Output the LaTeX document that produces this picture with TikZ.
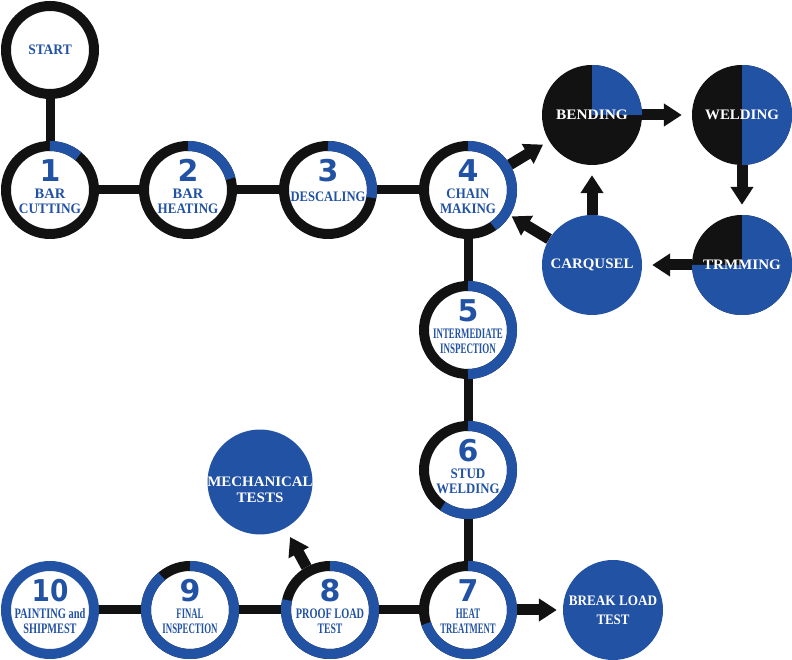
\documentclass[tikz,border=0pt]{standalone}
\usepackage{fontspec}
\usepackage{graphicx}
\setmainfont{Liberation Serif}
\newfontfamily\digfam{DejaVu Sans}
\usetikzlibrary{arrows.meta}
\definecolor{bl}{HTML}{2252A3}
\definecolor{bk}{HTML}{121212}
\newcommand\dig{\digfam\bfseries\fontsize{30}{30}\selectfont}
\newcommand\cx[2]{\scalebox{#1}[1]{#2}}
\newcommand\at[2]{\makebox[0pt]{\raisebox{#1}[0pt][0pt]{#2}}}
% number + two lines of text, all placed at fixed heights round the node centre
\newcommand\steptwo[3]{\at{8pt}{\dig #1}\at{-9pt}{#2}\at{-24pt}{#3}}
\newcommand\stepone[2]{\at{8pt}{\dig #1}\at{-11.8pt}{#2}}
\tikzset{
  ring/.style={circle, minimum size=88pt, inner sep=0pt, draw=bk, line width=10pt, fill=white,
    text=bl, font=\fontsize{14.5}{15}\selectfont\bfseries},
  disc/.style={circle, minimum size=100pt, inner sep=0pt, text=white, align=center,
    font=\fontsize{14.5}{16}\selectfont\bfseries},
  conn/.style={draw=bk, line width=9pt},
  arr/.style={draw=bk, line width=11pt, -{Triangle[width=22pt,length=18pt]}},
  prog/.style={draw=bl, line width=10pt},
}
\begin{document}
\begin{tikzpicture}[x=1pt,y=1pt]
\useasboundingbox (0,0) rectangle (792,660);
% ring steps
\node[ring] (start) at (50,610) {\cx{0.93}{START}};
\node[ring] (n1) at (50,470) {\steptwo{1}{BAR}{\cx{0.92}{CUTTING}}};
\node[ring] (n2) at (188,470) {\steptwo{2}{BAR}{\cx{0.9}{HEATING}}};
\node[ring] (n3) at (328,470) {\stepone{3}{\cx{0.87}{DESCALING}}};
\node[ring] (n4) at (468,470) {\steptwo{4}{\cx{0.89}{CHAIN}}{\cx{0.89}{MAKING}}};
\node[ring] (n5) at (468,330) {\steptwo{5}{\cx{0.61}{INTERMEDIATE}}{\cx{0.62}{INSPECTION}}};
\node[ring] (n6) at (468,190) {\steptwo{6}{\cx{0.9}{STUD}}{\cx{0.88}{WELDING}}};
\node[ring] (n7) at (468,50) {\steptwo{7}{\cx{0.61}{HEAT}}{\cx{0.6}{TREATMENT}}};
\node[ring] (n8) at (330,50) {\steptwo{8}{\cx{0.71}{PROOF LOAD}}{\cx{0.67}{TEST}}};
\node[ring] (n9) at (190,50) {\steptwo{9}{\cx{0.6}{FINAL}}{\cx{0.61}{INSPECTION}}};
\node[ring, draw=bl] (n10) at (50,50) {\steptwo{\cx{0.88}{10}}{\cx{0.72}{PAINTING and}}{\cx{0.71}{SHIPMEST}}};
% filled discs
\node[disc, fill=bk, path picture={\fill[bl] (path picture bounding box.center) -- ++(90:52pt) arc[start angle=90, end angle=0, radius=52pt] -- cycle;}] (bend) at (592,545) {\cx{1.06}{BENDING}};
\node[disc, fill=bk, path picture={\fill[bl] (path picture bounding box.center) -- ++(90:52pt) arc[start angle=90, end angle=-90, radius=52pt] -- cycle;}] (weld) at (742,545) {\cx{1.03}{WELDING}};
\node[disc, fill=bk, path picture={\fill[bl] (path picture bounding box.center) -- ++(90:52pt) arc[start angle=90, end angle=-180, radius=52pt] -- cycle;}] (trim) at (742,395) {\cx{1.04}{TRMMING}};
\node[disc, fill=bl] (carq) at (592,395) {\cx{1.03}{CARQUSEL}};
\node[disc, fill=bl] (mech) at (260,178) {\smash{\raisebox{-12.5pt}{\begin{tabular}{@{}c@{}}\cx{1.03}{MECHANICAL}\\\cx{1.04}{TESTS}\end{tabular}}}};
\node[disc, fill=bl] (blt) at (613,50) {\cx{0.91}{BREAK LOAD}\\[3pt]\cx{0.89}{TEST}};
% connectors
\draw[conn] (start) -- (n1);
\draw[conn] (n1) -- (n2);
\draw[conn] (n2) -- (n3);
\draw[conn] (n3) -- (n4);
\draw[conn] (n4) -- (n5);
\draw[conn] (n5) -- (n6);
\draw[conn] (n6) -- (n7);
\draw[conn] (n7) -- (n8);
\draw[conn] (n8) -- (n9);
\draw[conn] (n9) -- (n10);
% arrows
\draw[arr, shorten >=10pt] (bend) -- (weld);
\draw[arr, shorten >=10pt] (weld) -- (trim);
\draw[arr, shorten >=10pt] (trim) -- (carq);
\draw[arr, shorten >=10pt] (carq) -- (bend);
\draw[arr, shorten >=2pt] (carq) -- (n4);
\draw[arr, shorten >=7pt] (n4) -- (bend);
\draw[arr, shorten >=10pt] (n8) -- (mech);
\draw[arr, shorten >=6pt] (n7) -- (blt);
% progress arcs
\draw[prog] ([shift={(90:44pt)}]n1.center) arc[start angle=90, end angle=50, radius=44pt];
\draw[prog] ([shift={(90:44pt)}]n2.center) arc[start angle=90, end angle=15, radius=44pt];
\draw[prog] ([shift={(90:44pt)}]n3.center) arc[start angle=90, end angle=-10, radius=44pt];
\draw[prog] ([shift={(90:44pt)}]n4.center) arc[start angle=90, end angle=-55, radius=44pt];
\draw[prog] ([shift={(90:44pt)}]n5.center) arc[start angle=90, end angle=-90, radius=44pt];
\draw[prog] ([shift={(90:44pt)}]n6.center) arc[start angle=90, end angle=-125, radius=44pt];
\draw[prog] ([shift={(90:44pt)}]n7.center) arc[start angle=90, end angle=-162, radius=44pt];
\draw[prog] ([shift={(90:44pt)}]n8.center) arc[start angle=90, end angle=-193, radius=44pt];
\draw[prog] ([shift={(90:44pt)}]n9.center) arc[start angle=90, end angle=-230, radius=44pt];
\end{tikzpicture}
\end{document}
